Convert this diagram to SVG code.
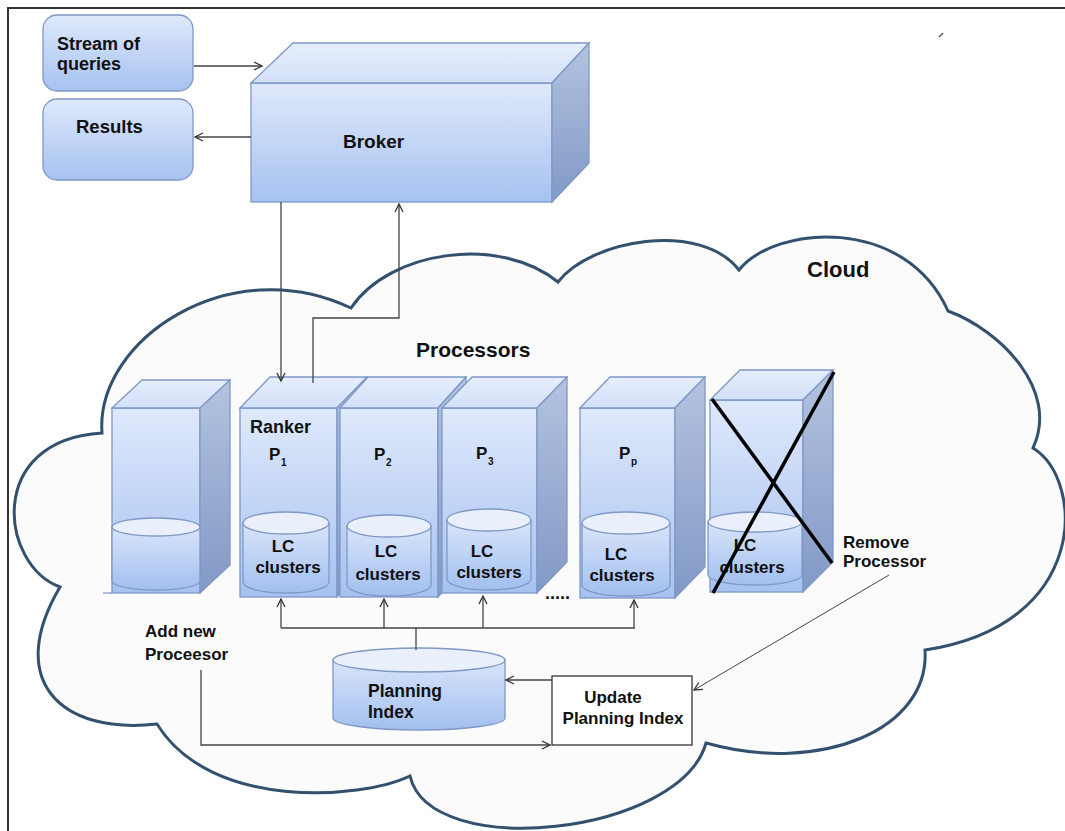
<svg xmlns="http://www.w3.org/2000/svg" width="1065" height="831" viewBox="0 0 1065 831">
<defs>
<linearGradient id="gFront" x1="0" y1="0" x2="0" y2="1"><stop offset="0" stop-color="#dfe9fb"/><stop offset="1" stop-color="#a6c2f0"/></linearGradient>
<linearGradient id="gTop" x1="0" y1="0" x2="0" y2="1"><stop offset="0" stop-color="#e6eefc"/><stop offset="1" stop-color="#d2e0f8"/></linearGradient>
<linearGradient id="gSide" x1="0" y1="0" x2="0" y2="1"><stop offset="0" stop-color="#b3c3e0"/><stop offset="1" stop-color="#8299c6"/></linearGradient>
<linearGradient id="gCyl" x1="0" y1="0" x2="0" y2="1"><stop offset="0" stop-color="#d8e5fa"/><stop offset="1" stop-color="#a2bfef"/></linearGradient>
<marker id="arr" viewBox="0 0 10 10" refX="9" refY="5" markerWidth="10" markerHeight="10" markerUnits="userSpaceOnUse" orient="auto">
<path d="M1,1 L9,5 L1,9" fill="none" stroke="#333" stroke-width="1.3"/>
</marker>
<style>
.face{fill:url(#gFront);stroke:#7f98c6;stroke-width:1.3}
.top{fill:url(#gTop);stroke:#7f98c6;stroke-width:1.3}
.side{fill:url(#gSide);stroke:#7f98c6;stroke-width:1.3}
.cyl{fill:url(#gCyl);stroke:#7f98c6;stroke-width:1.3}
.cylTop{fill:#e9f0fc;stroke:#7f98c6;stroke-width:1.3}
.t{font-family:"Liberation Sans",Arial,sans-serif;font-weight:bold;fill:#111}
.c{stroke:#444;stroke-width:1.3;fill:none}
.x{stroke:#000;stroke-width:3.5}
</style>
</defs>
<rect x="0" y="0" width="1065" height="831" fill="#fff"/>
<rect x="8" y="8" width="1080" height="850" fill="none" stroke="#333" stroke-width="2"/>
<path d="M939,37 L943,33" stroke="#555" stroke-width="1.5"/>

<g id="cloud">
<path d="M102,433 C95,340 230,250 351,308 C390,250 500,235 558,282 C590,240 700,220 739,270 C775,225 905,215 948,311 C1000,330 1060,390 1033,448 C1085,480 1090,625 925,650 C930,730 820,775 706,743 C680,835 430,862 410,776 C360,800 210,810 157,724 C60,735 5,680 60,587 C0,565 -15,440 102,433 Z" fill="#fbfbfb" stroke="#33506f" stroke-width="3" stroke-linejoin="miter"/>
<text class="t" x="807" y="277" font-size="22">Cloud</text>
<text class="t" x="416" y="357" font-size="21">Processors</text>
</g>

<g id="stream">
<rect x="43" y="15" width="150" height="76" rx="14" class="face"/>
<text class="t" x="57" y="50" font-size="18">Stream of</text>
<text class="t" x="57" y="70" font-size="18">queries</text>
</g>
<g id="results">
<rect x="43" y="99" width="150" height="81" rx="14" class="face"/>
<text class="t" x="76" y="133" font-size="18.5">Results</text>
</g>
<g id="broker">
<rect x="251" y="83" width="301" height="119" class="face"/>
<polygon points="251,83 293,43 589,43 552,83" class="top"/>
<polygon points="552,83 589,43 589,163 552,202" class="side"/>
<text class="t" x="343" y="148" font-size="19">Broker</text>
</g>

<g id="proc0">
<rect x="112" y="408" width="88" height="185" class="face"/>
<polygon points="112,408 142,380 230,380 200,408" class="top"/>
<polygon points="200,408 230,380 230,565 200,593" class="side"/>
<path d="M112,527 L112,581 A44,9 0 0 0 200,581 L200,527 Z" class="cyl"/>
<ellipse cx="156" cy="527" rx="44" ry="9" class="cylTop"/>
<path d="M103,593 L112,593" stroke="#7f98c6" stroke-width="1.3"/>
</g>

<g id="proc1">
<rect x="240" y="408" width="97" height="189" class="face"/>
<polygon points="240,408 270,377 367,377 337,408" class="top"/>
<polygon points="337,408 367,377 367,566 337,597" class="side"/>
<path d="M243,523 L243,582 A43,11 0 0 0 329,582 L329,523 Z" class="cyl"/>
<ellipse cx="286" cy="523" rx="43" ry="11" class="cylTop"/>
<text class="t" x="250" y="433" font-size="18">Ranker</text>
<text class="t" x="269" y="460" font-size="17">P</text><text class="t" x="281" y="466" font-size="10">1</text>
<text class="t" x="283" y="552" font-size="17" text-anchor="middle">LC</text>
<text class="t" x="288" y="573" font-size="17" text-anchor="middle">clusters</text>
</g>

<g id="proc2">
<rect x="340" y="408" width="98" height="189" class="face"/>
<polygon points="340,408 368,377 466,377 438,408" class="top"/>
<polygon points="438,408 466,377 466,566 438,597" class="side"/>
<path d="M347,526 L347,585 A42,11 0 0 0 431,585 L431,526 Z" class="cyl"/>
<ellipse cx="389" cy="526" rx="42" ry="11" class="cylTop"/>
<text class="t" x="374" y="460" font-size="17">P</text><text class="t" x="386" y="466" font-size="10">2</text>
<text class="t" x="386" y="557" font-size="17" text-anchor="middle">LC</text>
<text class="t" x="388" y="580" font-size="17" text-anchor="middle">clusters</text>
</g>

<g id="proc3">
<rect x="442" y="408" width="95" height="185" class="face"/>
<polygon points="442,408 472,377 567,377 537,408" class="top"/>
<polygon points="537,408 567,377 567,562 537,593" class="side"/>
<path d="M447,520 L447,579 A42,11 0 0 0 531,579 L531,520 Z" class="cyl"/>
<ellipse cx="489" cy="520" rx="42" ry="11" class="cylTop"/>
<text class="t" x="476" y="459" font-size="17">P</text><text class="t" x="488" y="465" font-size="10">3</text>
<text class="t" x="482" y="557" font-size="17" text-anchor="middle">LC</text>
<text class="t" x="489" y="578" font-size="17" text-anchor="middle">clusters</text>
</g>

<g id="procP">
<rect x="580" y="408" width="95" height="190" class="face"/>
<polygon points="580,408 610,377 705,377 675,408" class="top"/>
<polygon points="675,408 705,377 705,567 675,598" class="side"/>
<path d="M582,523 L582,585 A44,11 0 0 0 670,585 L670,523 Z" class="cyl"/>
<ellipse cx="626" cy="523" rx="44" ry="11" class="cylTop"/>
<text class="t" x="619" y="459" font-size="17">P</text><text class="t" x="631" y="465" font-size="10">p</text>
<text class="t" x="616" y="560" font-size="17" text-anchor="middle">LC</text>
<text class="t" x="622" y="581" font-size="17" text-anchor="middle">clusters</text>
</g>

<g id="dots">
<text class="t" x="545" y="599" font-size="18">.....</text>
</g>

<g id="procRemoved">
<rect x="710" y="400" width="93" height="192" class="face"/>
<polygon points="710,400 740,370 833,370 803,400" class="top"/>
<polygon points="803,400 833,370 833,562 803,592" class="side"/>
<path d="M708,522 L708,575 A47,10 0 0 0 802,575 L802,522 Z" class="cyl"/>
<ellipse cx="755" cy="522" rx="47" ry="10" class="cylTop"/>
<text class="t" x="745" y="551" font-size="17" text-anchor="middle">LC</text>
<text class="t" x="752" y="573" font-size="17" text-anchor="middle">clusters</text>
<line x1="712" y1="399" x2="832" y2="563" class="x"/>
<line x1="834" y1="372" x2="713" y2="593" class="x"/>
</g>

<g id="planning">
<path d="M333,660 L333,718 A86,12 0 0 0 505,718 L505,660 Z" class="cyl"/>
<ellipse cx="419" cy="660" rx="86" ry="12" class="cylTop"/>
<text class="t" x="368" y="697" font-size="17.5">Planning</text>
<text class="t" x="368" y="718" font-size="17.5">Index</text>
</g>

<g id="update">
<rect x="552" y="676" width="140" height="69" fill="#fff" stroke="#333" stroke-width="1.3"/>
<text class="t" x="613" y="703" font-size="17" text-anchor="middle">Update</text>
<text class="t" x="623" y="724" font-size="17" text-anchor="middle">Planning Index</text>
</g>

<g id="labels">
<text class="t" x="145" y="637" font-size="17">Add new</text>
<text class="t" x="145" y="660" font-size="17">Proceesor</text>
<text class="t" x="843" y="548" font-size="17">Remove</text>
<text class="t" x="843" y="567" font-size="17">Processor</text>
</g>

<g id="connectors">
<line x1="194" y1="66" x2="262" y2="66" class="c" marker-end="url(#arr)"/>
<line x1="251" y1="137" x2="195" y2="137" class="c" marker-end="url(#arr)"/>
<line x1="281" y1="202" x2="281" y2="381" class="c" marker-end="url(#arr)"/>
<polyline points="313,383 313,318 399,318 399,204" class="c" marker-end="url(#arr)"/>
<polyline points="281,628 635,628" class="c"/>
<line x1="281" y1="628" x2="281" y2="599" class="c" marker-end="url(#arr)"/>
<line x1="384" y1="628" x2="384" y2="599" class="c" marker-end="url(#arr)"/>
<line x1="483" y1="628" x2="483" y2="596" class="c" marker-end="url(#arr)"/>
<line x1="634" y1="628" x2="634" y2="600" class="c" marker-end="url(#arr)"/>
<line x1="416" y1="628" x2="416" y2="650" class="c"/>
<line x1="552" y1="680" x2="506" y2="680" class="c" marker-end="url(#arr)"/>
<polyline points="201,670 201,745 550,745" class="c" marker-end="url(#arr)"/>
<line x1="889" y1="575" x2="694" y2="690" stroke="#444" stroke-width="1" marker-end="url(#arr)"/>
</g>
</svg>
